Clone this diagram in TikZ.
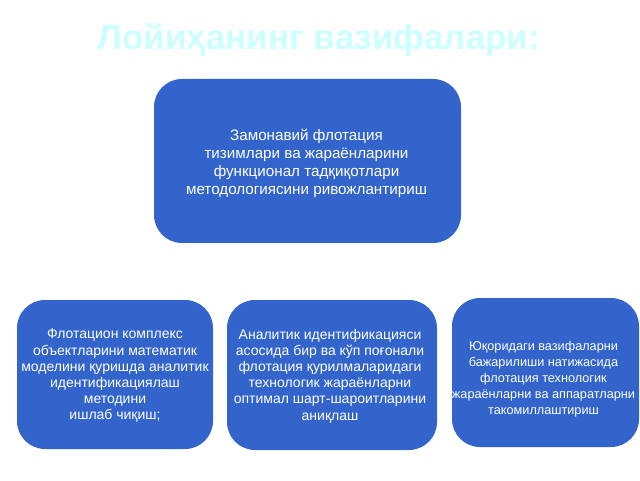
\documentclass[tikz,border=0pt]{standalone}
\usepackage{fontspec}
\setmainfont{Liberation Sans}
\definecolor{boxblue}{RGB}{50,100,204}
\definecolor{titlecyan}{RGB}{204,255,255}
\begin{document}
\begin{tikzpicture}[x=1pt,y=1pt,
  taskbox/.style={fill=boxblue, draw=none, rounded corners=28pt, inner sep=0pt},
  boxtext/.style={text=white, align=center, inner sep=0pt},
  toptext/.style={font=\fontsize{15.2}{17.8}\selectfont},
  bigtext/.style={font=\fontsize{14}{16.2}\selectfont},
  smalltext/.style={font=\fontsize{12.7}{16.1}\selectfont}]
\useasboundingbox[fill=white] (0,0) rectangle (640,480);
\node[font=\fontsize{35}{40}\selectfont\bfseries, text=titlecyan, anchor=base] (title) at (319,430) {Лойиҳанинг вазифалари:};
\node[taskbox, minimum width=307pt, minimum height=164pt] (top) at (307.5,319) {};
\node[boxtext, toptext] (toptxt) at (306.5,316.5)
  {Замонавий флотация\\тизимлари ва жараёнларини\\функционал тадқиқотлари\\методологиясини ривожлантириш};
\node[taskbox, minimum width=196pt, minimum height=149pt] (left) at (115,105.5) {};
\node[boxtext, bigtext] (lefttxt) at (115,104)
  {Флотацион комплекс\\объектларини математик\\моделини қуришда аналитик\\идентификациялаш\\методини\\ишлаб чиқиш;};
\node[taskbox, minimum width=210pt, minimum height=150pt] (mid) at (332,105) {};
\node[boxtext, bigtext] (midtxt) at (330,104)
  {Аналитик идентификацияси\\асосида бир ва кўп поғонали\\флотация қурилмаларидаги\\технологик жараёнларни\\оптимал шарт-шароитларини\\аниқлаш};
\node[taskbox, minimum width=187pt, minimum height=149pt] (right) at (545.5,107.5) {};
\node[boxtext, smalltext] (righttxt) at (543.5,101)
  {Юқоридаги вазифаларни\\бажарилиши натижасида\\флотация технологик\\жараёнларни ва аппаратларни\\такомиллаштириш};
\end{tikzpicture}
\end{document}
